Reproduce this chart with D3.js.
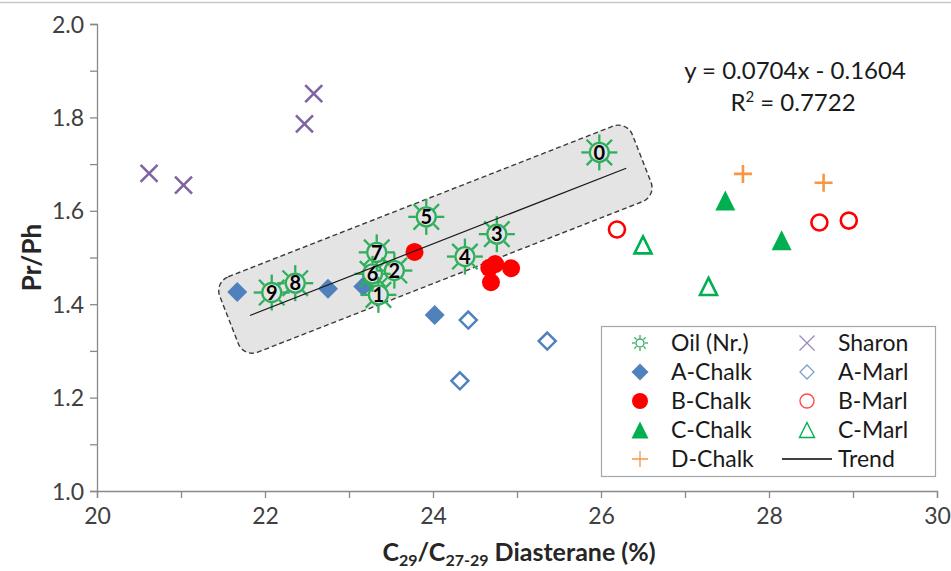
<!DOCTYPE html>
<html>
<head>
<meta charset="utf-8">
<script src="https://cdn.jsdelivr.net/npm/d3@7"></script>
<style>
  body { margin: 0; background: #fff; }
  text { font-family: Lato, "Liberation Sans", sans-serif; }
</style>
</head>
<body>
<svg id="chart" width="951" height="571"></svg>
<script>
// ---- data ----
const oilNr = [0, 1, 2, 3, 4, 5, 6, 7, 8, 9];
const oilX  = [25.98, 23.35, 23.54, 24.76, 24.38, 23.92, 23.28, 23.33, 22.36, 22.08];
const oilY  = [1.725, 1.420, 1.472, 1.550, 1.502, 1.587, 1.465, 1.511, 1.445, 1.425];

const sharonX = [20.62, 21.03, 22.47, 22.58];
const sharonY = [1.680, 1.655, 1.786, 1.851];

const aChalkX = [21.67, 22.75, 23.17, 24.02];
const aChalkY = [1.426, 1.433, 1.438, 1.377];
const aMarlX  = [24.42, 25.36, 24.32];
const aMarlY  = [1.366, 1.321, 1.236];

const bChalkX = [23.78, 24.67, 24.74, 24.93, 24.69];
const bChalkY = [1.512, 1.478, 1.486, 1.477, 1.447];
const bMarlX  = [26.19, 28.60, 28.95];
const bMarlY  = [1.560, 1.575, 1.579];

const cChalkX = [27.48, 28.15];
const cChalkY = [1.622, 1.537];
const cMarlX  = [26.50, 27.28];
const cMarlY  = [1.527, 1.438];

const dChalkX = [27.69, 28.65];
const dChalkY = [1.679, 1.660];

// linear trend of the oils
const trendSlope = 0.0704;
const trendIntercept = -0.1604;
const trendR2 = 0.7722;
const trendRange = [21.82, 26.30];

const xTicks = [20, 22, 24, 26, 28, 30];
const yTicks = [1.0, 1.2, 1.4, 1.6, 1.8, 2.0];

// ---- layout ----
const svg = d3.select("#chart");
const x = d3.scaleLinear().domain([20, 30]).range([97, 937]);
const y = d3.scaleLinear().domain([1, 2]).range([491, 24]);

const AXIS = "#898989";
const TEXT = "#404040";
const OIL = "#2fae5b";
const GREEN = "#00b050";
const RED = "#ff0000";
const BLUE = "#4f81bd";
const PURPLE = "#8064a2";
const ORANGE = "#f79646";

// outer frame edge
svg.append("line").attr("x1", 0).attr("x2", 951).attr("y1", 2.5).attr("y2", 2.5)
  .attr("stroke", "#c8c8c8").attr("stroke-width", 1.5);

// ---- axes ----
const yAxis = d3.axisLeft(y)
  .tickValues(d3.range(10, 21).map(d => d / 10))
  .tickSize(7).tickPadding(6)
  .tickFormat(d => (yTicks.some(t => Math.abs(t - d) < 1e-9) ? d3.format(".1f")(d) : ""));
const gy = svg.append("g").attr("transform", `translate(${x(20)},0)`).call(yAxis);

const xAxis = d3.axisBottom(x)
  .tickValues(d3.range(20, 31))
  .tickSize(7).tickPadding(10)
  .tickFormat(d => (xTicks.includes(d) ? d : ""));
const gx = svg.append("g").attr("transform", `translate(0,${y(1)})`).call(xAxis);

[gx, gy].forEach(g => {
  g.select(".domain").attr("stroke", AXIS).attr("stroke-width", 1.3);
  g.selectAll(".tick line").attr("stroke", AXIS).attr("stroke-width", 1.3);
  g.selectAll(".tick text").attr("fill", TEXT).style("font-size", "23px")
    .style("font-family", "Lato, 'Liberation Sans', sans-serif");
});
gy.selectAll(".tick text").attr("dy", "0.35em");

// axis titles
svg.append("text")
  .attr("transform", `translate(32,${(y(1) + y(2)) / 2}) rotate(-90)`)
  .attr("text-anchor", "middle").attr("dy", "0.35em")
  .attr("font-weight", "bold").attr("font-size", 26).attr("fill", "#262626")
  .text("Pr/Ph");

const xt = svg.append("text")
  .attr("x", (x(20) + x(30)) / 2 + 2).attr("y", 561)
  .attr("text-anchor", "middle")
  .attr("font-weight", "bold").attr("font-size", 25).attr("fill", "#262626");
xt.append("tspan").text("C");
xt.append("tspan").text("29").attr("font-size", 16).attr("dy", 5);
xt.append("tspan").text("/C").attr("dy", -5);
xt.append("tspan").text("27-29").attr("font-size", 16).attr("dy", 5);
xt.append("tspan").text(" Diasterane (%)").attr("dy", -5);

// ---- highlighted oil band around the trend ----
const p1 = [x(trendRange[0]), y(trendSlope * trendRange[0] + trendIntercept)];
const p2 = [x(trendRange[1]), y(trendSlope * trendRange[1] + trendIntercept)];
const ang = Math.atan2(p2[1] - p1[1], p2[0] - p1[0]) * 180 / Math.PI;
const len = Math.hypot(p2[0] - p1[0], p2[1] - p1[1]);
svg.append("g")
  .attr("transform", `translate(${p1[0]},${p1[1]}) rotate(${ang})`)
  .append("rect")
  .attr("x", -21).attr("y", -44).attr("width", len + 39).attr("height", 81)
  .attr("rx", 15).attr("ry", 15)
  .attr("fill", "#e4e4e4").attr("stroke", "#3a3a3a")
  .attr("stroke-width", 1.4).attr("stroke-dasharray", "5,3");

// ---- marker drawing ----
function sun(g, cx, cy, r, ray, sw) {
  const m = g.append("g").attr("transform", `translate(${cx},${cy})`)
    .attr("stroke", OIL).attr("stroke-width", sw).attr("fill", "none");
  m.append("circle").attr("r", r);
  for (let i = 0; i < 8; i++) {
    const a = i * Math.PI / 4;
    m.append("line")
      .attr("x1", Math.cos(a) * (r + 1)).attr("y1", Math.sin(a) * (r + 1))
      .attr("x2", Math.cos(a) * ray).attr("y2", Math.sin(a) * ray);
  }
}
function diamond(g, cx, cy, h, fill, stroke, sw) {
  g.append("path")
    .attr("d", `M${cx},${cy - h}L${cx + h},${cy}L${cx},${cy + h}L${cx - h},${cy}Z`)
    .attr("fill", fill).attr("stroke", stroke).attr("stroke-width", sw);
}
function circle(g, cx, cy, r, fill, stroke, sw) {
  g.append("circle").attr("cx", cx).attr("cy", cy).attr("r", r)
    .attr("fill", fill).attr("stroke", stroke).attr("stroke-width", sw);
}
function triangle(g, cx, cy, h, fill, stroke, sw) {
  g.append("path")
    .attr("d", `M${cx},${cy - h}L${cx + h},${cy + h}L${cx - h},${cy + h}Z`)
    .attr("fill", fill).attr("stroke", stroke).attr("stroke-width", sw)
    .attr("stroke-linejoin", "miter");
}
function cross(g, cx, cy, h, color, sw) {
  g.append("path")
    .attr("d", `M${cx - h},${cy - h}L${cx + h},${cy + h}M${cx - h},${cy + h}L${cx + h},${cy - h}`)
    .attr("stroke", color).attr("stroke-width", sw).attr("fill", "none");
}
function plus(g, cx, cy, h, color, sw) {
  g.append("path")
    .attr("d", `M${cx - h},${cy}L${cx + h},${cy}M${cx},${cy - h}L${cx},${cy + h}`)
    .attr("stroke", color).attr("stroke-width", sw).attr("fill", "none");
}

const pts = svg.append("g");
sharonX.forEach((v, i) => cross(pts, x(v), y(sharonY[i]), 8.5, PURPLE, 2.6));
aChalkX.forEach((v, i) => diamond(pts, x(v), y(aChalkY[i]), 10, BLUE, "none", 0));
aMarlX.forEach((v, i) => diamond(pts, x(v), y(aMarlY[i]), 8.5, "none", BLUE, 2.5));
bChalkX.forEach((v, i) => circle(pts, x(v), y(bChalkY[i]), 9, RED, "none", 0));
bMarlX.forEach((v, i) => circle(pts, x(v), y(bMarlY[i]), 8, "#fff", RED, 2.6));
cChalkX.forEach((v, i) => triangle(pts, x(v), y(cChalkY[i]), 10, GREEN, "none", 0));
cMarlX.forEach((v, i) => triangle(pts, x(v), y(cMarlY[i]), 8.5, "#fff", GREEN, 2.6));
dChalkX.forEach((v, i) => plus(pts, x(v), y(dChalkY[i]), 9, ORANGE, 2.6));
oilX.forEach((v, i) => sun(pts, x(v), y(oilY[i]), 9.5, 18, 2.3));

// trend line
svg.append("line")
  .attr("x1", p1[0]).attr("y1", p1[1]).attr("x2", p2[0]).attr("y2", p2[1])
  .attr("stroke", "#1a1a1a").attr("stroke-width", 1.2);

// oil numbers
svg.append("g").selectAll("text").data(oilNr).join("text")
  .attr("x", (d, i) => x(oilX[i])).attr("y", (d, i) => y(oilY[i]))
  .attr("text-anchor", "middle").attr("dy", "0.36em")
  .attr("font-weight", "bold").attr("font-size", 20).attr("fill", "#000")
  .text(d => d);

// trend equation
const eq = svg.append("g").attr("fill", "#1a1a1a").attr("font-size", 24).attr("text-anchor", "middle");
eq.append("text").attr("x", 795).attr("y", 79)
  .text(`y = ${trendSlope}x - ${Math.abs(trendIntercept)}`);
const r2 = eq.append("text").attr("x", 793).attr("y", 111);
r2.append("tspan").text("R");
r2.append("tspan").text("2").attr("font-size", 15).attr("dy", -9);
r2.append("tspan").text(` = ${trendR2}`).attr("dy", 9);

// ---- legend ----
const lg = svg.append("g");
lg.append("rect").attr("x", 601.5).attr("y", 326.5).attr("width", 334).attr("height", 150)
  .attr("fill", "#fff").attr("stroke", "#a6a6a6").attr("stroke-width", 1.2);

const rowY = [343, 372, 401, 430, 459];
const c1 = 640, c2 = 807, t1 = 671, t2 = 838;
const legendNames = ["Oil (Nr.)", "A-Chalk", "B-Chalk", "C-Chalk", "D-Chalk",
                     "Sharon", "A-Marl", "B-Marl", "C-Marl", "Trend"];

sun(lg, c1, rowY[0], 4, 8, 1.3);
diamond(lg, c1, rowY[1], 8.5, BLUE, "none", 0);
circle(lg, c1, rowY[2], 8, RED, "none", 0);
triangle(lg, c1, rowY[3], 8.5, GREEN, "none", 0);
plus(lg, c1, rowY[4], 8, ORANGE, 1.3);
cross(lg, c2, rowY[0], 7.5, "#9d87bb", 1.3);
diamond(lg, c2, rowY[1], 7, "none", "#7ea0cc", 1.3);
circle(lg, c2, rowY[2], 7, "none", "#ff4b4b", 1.4);
triangle(lg, c2, rowY[3], 7.5, "none", GREEN, 1.4);
lg.append("line").attr("x1", 782).attr("x2", 832).attr("y1", rowY[4]).attr("y2", rowY[4])
  .attr("stroke", "#000").attr("stroke-width", 1.3);

lg.selectAll("text.ln").data(legendNames).join("text").attr("class", "ln")
  .attr("x", (d, i) => (i < 5 ? t1 : t2))
  .attr("y", (d, i) => rowY[i % 5]).attr("dy", "0.36em")
  .attr("font-size", 23).attr("fill", "#1a1a1a")
  .text(d => d);
</script>
</body>
</html>
